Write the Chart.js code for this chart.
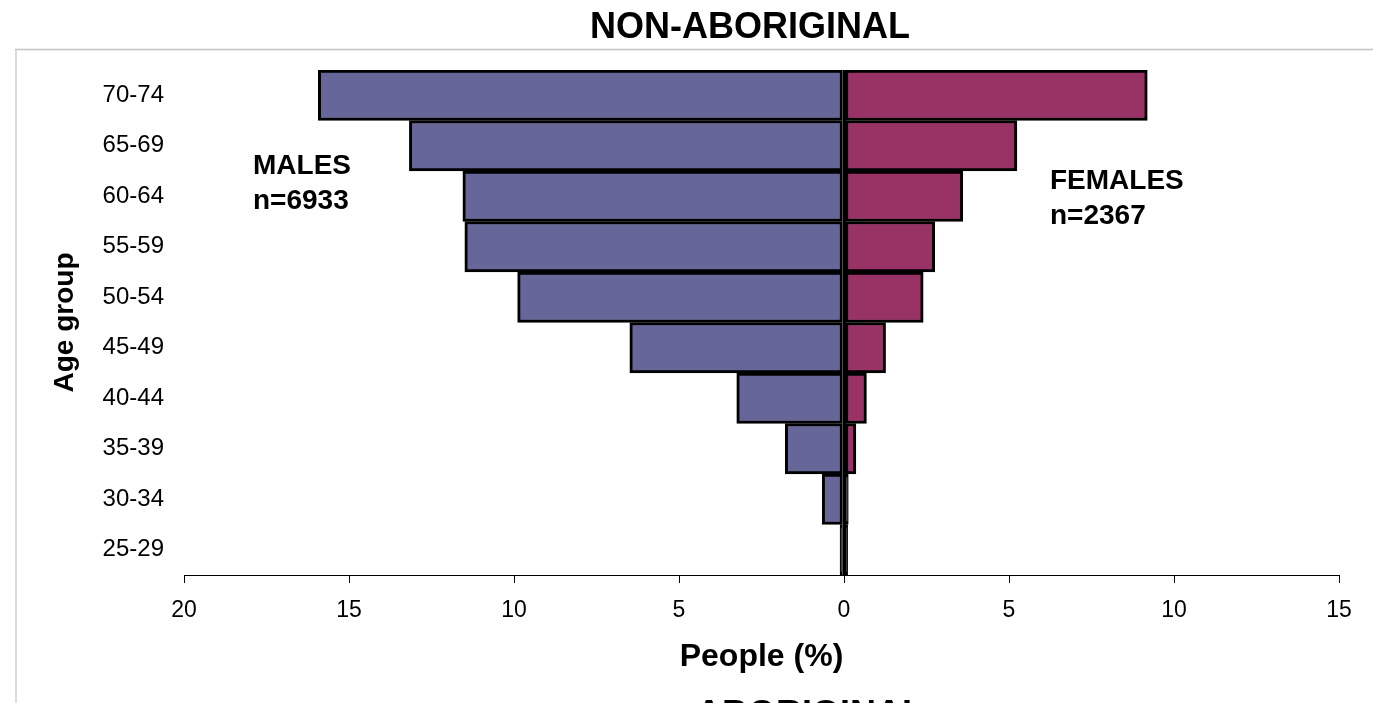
<!DOCTYPE html>
<html>
<head>
<meta charset="utf-8">
<script src="https://cdn.jsdelivr.net/npm/chart.js@4"></script>
<style>
  html, body { margin: 0; padding: 0; background: #ffffff; }
  #wrap { width: 1373px; height: 703px; overflow: hidden; }
</style>
</head>
<body>
<div id="wrap"><canvas id="c" width="1373" height="703"></canvas></div>
<script>
const ageGroups = ['70-74', '65-69', '60-64', '55-59', '50-54', '45-49', '40-44', '35-39', '30-34', '25-29'];
const malesPct = [15.93, 13.17, 11.55, 11.49, 9.89, 6.49, 3.25, 1.78, 0.66, 0.12];
const femalesPct = [9.19, 5.24, 3.6, 2.75, 2.4, 1.26, 0.68, 0.36, 0.13, 0.11];
const xMin = -20, xMax = 15, xStep = 5;
const chartTitle = 'NON-ABORIGINAL';
const nextTitle = 'ABORIGINAL';
const malesLabel = ['MALES', 'n=6933'];
const femalesLabel = ['FEMALES', 'n=2367'];
const yTitle = 'Age group';
const xTitle = 'People (%)';

const FONT = '"Liberation Sans", Arial, Helvetica, sans-serif';
const MALE_COLOR = '#666699';
const FEMALE_COLOR = '#993366';

// bars thinner than their outline show as solid black, as in the original
const fills = (vals, base) => vals.map(v => (v < 0.2 ? '#000000' : base));
const isZero = (c) => c.tick && c.tick.value === 0;

const overlay = {
  id: 'overlay',
  beforeDraw(chart) {
    const ctx = chart.ctx;
    ctx.save();
    ctx.fillStyle = '#ffffff';
    ctx.fillRect(0, 0, chart.width, chart.height);
    ctx.strokeStyle = '#dcdcdc';
    ctx.lineWidth = 2;
    ctx.beginPath();
    ctx.moveTo(16, 49);
    ctx.lineTo(16, chart.height);
    ctx.stroke();
    ctx.strokeStyle = '#c4c4c4';
    ctx.lineWidth = 1.5;
    ctx.beginPath();
    ctx.moveTo(15, 49.5);
    ctx.lineTo(chart.width, 49.5);
    ctx.stroke();
    ctx.restore();
  },
  afterDraw(chart) {
    const ctx = chart.ctx;
    ctx.save();
    ctx.fillStyle = '#000000';
    ctx.textBaseline = 'alphabetic';
    ctx.textAlign = 'center';
    ctx.font = 'bold 36px ' + FONT;
    ctx.fillText(chartTitle, 750, 38);
    ctx.fillText(nextTitle, 810, 726);
    ctx.textAlign = 'left';
    ctx.font = 'bold 28px ' + FONT;
    ctx.fillText(malesLabel[0], 253, 174);
    ctx.fillText(malesLabel[1], 253, 209);
    ctx.fillText(femalesLabel[0], 1050, 189);
    ctx.fillText(femalesLabel[1], 1050, 224);
    ctx.restore();
  }
};

new Chart(document.getElementById('c'), {
  type: 'bar',
  data: {
    labels: ageGroups,
    datasets: [
      {
        label: 'Males',
        data: malesPct.map(v => -v),
        backgroundColor: fills(malesPct, MALE_COLOR),
        borderColor: '#000000',
        borderWidth: 3,
        borderSkipped: false
      },
      {
        label: 'Females',
        data: femalesPct,
        backgroundColor: fills(femalesPct, FEMALE_COLOR),
        borderColor: '#000000',
        borderWidth: 3,
        borderSkipped: false
      }
    ]
  },
  options: {
    indexAxis: 'y',
    responsive: false,
    animation: false,
    devicePixelRatio: 1,
    layout: { padding: { top: 70, right: 34, left: 0, bottom: 0 } },
    datasets: { bar: { barPercentage: 1, categoryPercentage: 1 } },
    plugins: {
      legend: { display: false },
      title: { display: false },
      tooltip: { enabled: false }
    },
    scales: {
      x: {
        type: 'linear',
        stacked: true,
        min: xMin,
        max: xMax,
        z: 1,
        afterFit(scale) { scale.height = 128; },
        ticks: {
          stepSize: xStep,
          color: '#000000',
          font: { family: FONT, size: 23 },
          padding: 14,
          maxRotation: 0,
          callback: v => Math.abs(v)
        },
        grid: {
          drawOnChartArea: true,
          drawTicks: true,
          tickLength: 8,
          color: (c) => (isZero(c) ? '#000000' : 'rgba(0,0,0,0)'),
          lineWidth: (c) => (isZero(c) ? 3 : 1),
          tickColor: '#000000',
          tickWidth: 1
        },
        border: { display: true, color: '#000000', width: 1 },
        title: {
          display: true,
          text: xTitle,
          color: '#000000',
          font: { family: FONT, size: 32, weight: 'bold' },
          padding: { top: 0, bottom: 27 }
        }
      },
      y: {
        stacked: true,
        afterFit(scale) { scale.width = 184; },
        ticks: {
          color: '#000000',
          font: { family: FONT, size: 24 },
          padding: 20
        },
        grid: { display: false, drawTicks: false },
        border: { display: false },
        title: {
          display: true,
          text: yTitle,
          color: '#000000',
          font: { family: FONT, size: 28, weight: 'bold' },
          padding: { top: 48, bottom: 0 }
        }
      }
    }
  },
  plugins: [overlay]
});
</script>
</body>
</html>
